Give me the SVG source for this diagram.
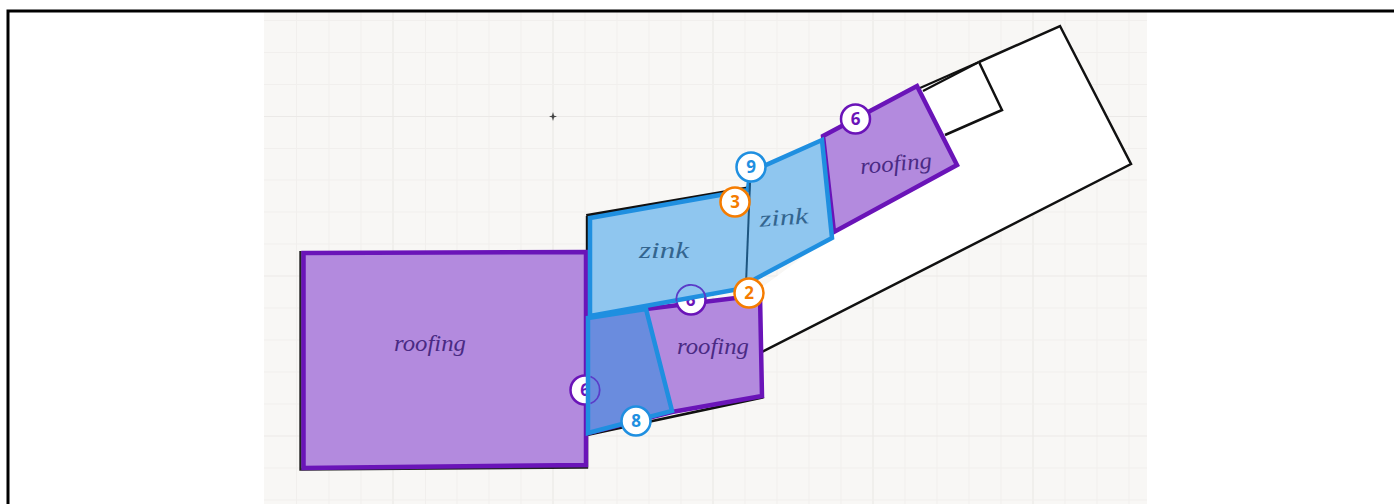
<svg xmlns="http://www.w3.org/2000/svg" width="1394" height="504" viewBox="0 0 1394 504">
<defs>
<style>
.hand{font-family:"Liberation Serif","DejaVu Serif",serif;font-style:italic;font-size:23px;text-anchor:middle}
.rt{fill:#4a2a84}
.zt{fill:#33658f}
.wall{fill:#fff;stroke:#111;stroke-width:2.5;stroke-linejoin:miter}
.roof{fill:#b38ade;stroke:#6a14b8;stroke-width:4.500;stroke-linejoin:miter}
.zink{fill:#8fc6ef;stroke:#1f8fe0;stroke-width:4.500;stroke-linejoin:miter}
.over{fill:#6a8cde;stroke:#1f8fe0;stroke-width:4.500;stroke-linejoin:miter}
.b{fill:#fff;stroke-width:2.500}
.bt{font-family:"Open Sans","Noto Sans",sans-serif;font-weight:700;font-size:17px;text-anchor:middle}
.minor{stroke:#f1efed;stroke-width:1}
.major{stroke:#ebe9e7;stroke-width:1.200}
</style>
</defs>
<rect width="1394" height="504" fill="#fff"/>
<g id="plan-background">
<rect x="264" y="12" width="883" height="492" fill="#f8f7f5"/>
<path class="minor" d="M296.500 12V504M329 12V504M361 12V504M425.500 12V504M457 12V504M489 12V504M521 12V504M585 12V504M617 12V504M649 12V504M681 12V504M745 12V504M777 12V504M809 12V504M841 12V504M905 12V504M937 12V504M969 12V504M1001 12V504M1065 12V504M1097 12V504M1129 12V504"/>
<path class="major" d="M393 12V504M553 12V504M713 12V504M873 12V504M1033 12V504"/>
<path class="minor" d="M264 20.500H1147M264 52.500H1147M264 84.500H1147M264 148.500H1147M264 180H1147M264 212H1147M264 244H1147M264 308H1147M264 340H1147M264 372H1147M264 404H1147M264 468H1147M264 500H1147"/>
<path class="major" d="M264 116.500H1147M264 276H1147M264 436H1147"/>
<path d="M553 112L554.300 116.500L553 121L551.700 116.500ZM549 116.500L553 115.200L557 116.500L553 117.800Z" fill="#444"/>
</g>
<g id="building-outline">
<path fill="#fff" d="M745 300L835 233L958 165L917 88L1060 26L1131 164L762 352Z"/>
<path fill="none" stroke="#111" stroke-width="2.500" d="M979 62L1060 26L1131 164L762 352"/>
<path fill="#111" d="M586 214L750 186V192L587 220Z"/>
<path fill="none" stroke="#111" stroke-width="2.400" d="M587 216V252"/>
<path fill="none" stroke="#111" stroke-width="2.800" d="M587 435L764 397"/>
<path fill="none" stroke="#222" stroke-width="2.400" d="M300.500 251V469.500L587 467.500V434"/>
</g>
<g id="connectors" fill="none" stroke="#111" stroke-width="2.200">
<path d="M920 88L979 62"/>
<path d="M923 91L979 62"/>
</g>
<g id="storage-room">
<path class="wall" d="M979 62L1002 110L945 135" fill="none"/>
</g>
<g id="roof-large">
<path class="roof" d="M303.500 253L586 252V465L303.500 468Z"/>
<text class="hand rt" x="430" y="351" textLength="72" lengthAdjust="spacingAndGlyphs">roofing</text>
</g>
<g id="roof-right">
<path class="roof" d="M823 136L917 86L957 165L834 232Z"/>
<text class="hand rt" x="896" y="171" textLength="72" lengthAdjust="spacingAndGlyphs" transform="rotate(-5 896 165)">roofing</text>
</g>
<g id="badge-6-right">
<circle class="b" cx="855.500" cy="119" r="14.500" stroke="#6a14b8"/>
<text class="bt" x="855.500" y="125" fill="#6a14b8">6</text>
</g>
<g id="roof-middle">
<path class="roof" d="M646 309L760 295L762 396L672 412L588 433V318Z"/>
<text class="hand rt" x="713" y="354" textLength="72" lengthAdjust="spacingAndGlyphs">roofing</text>
</g>
<g id="badge-6-middle">
<circle class="b" cx="691" cy="300" r="14.500" stroke="#6a14b8"/>
<text class="bt" x="690.500" y="306" fill="#6a14b8">6</text>
</g>
<g id="badge-6-left">
<circle class="b" cx="585" cy="390" r="14.500" stroke="#6a14b8"/>
<text class="bt" x="585" y="396" fill="#6a14b8">6</text>
</g>
<g id="zink-area">
<path class="zink" d="M590 218L748 190L750 172L822 140L832 238L755 279L745 288L590 316Z"/>
<path fill="none" stroke="#1d5580" stroke-width="2" d="M750 183L746 284"/>
<text class="hand zt" x="664" y="258" textLength="50" lengthAdjust="spacingAndGlyphs">zink</text>
<text class="hand zt" x="784" y="225" textLength="49" lengthAdjust="spacingAndGlyphs" transform="rotate(-4 784 220)">zink</text>
</g>
<g id="zink-over-roof">
<path class="over" d="M588 318L646 309L672 411L588 433Z"/>
</g>
<g id="badge-rings" fill="none" stroke="#5a3cc8" stroke-width="1.800">
<path d="M676.500 301.500A14.500 14.500 0 0 1 705.500 297.500"/>
<path d="M590.500 376.500A14.500 14.500 0 0 1 590.500 403.500"/>
</g>
<g id="badge-9">
<circle class="b" cx="751" cy="167" r="14.500" stroke="#1f8fe0"/>
<text class="bt" x="751" y="173" fill="#1f8fe0">9</text>
</g>
<g id="badge-3">
<circle class="b" cx="735" cy="202" r="14.500" stroke="#f57c00"/>
<text class="bt" x="735" y="208" fill="#f57c00">3</text>
</g>
<g id="badge-2">
<circle class="b" cx="749" cy="293" r="14.500" stroke="#f57c00"/>
<text class="bt" x="749" y="299" fill="#f57c00">2</text>
</g>
<g id="badge-8">
<circle class="b" cx="636" cy="421" r="14.500" stroke="#1f8fe0"/>
<text class="bt" x="636" y="427" fill="#1f8fe0">8</text>
</g>
<path id="frame" d="M8 504V11H1394" fill="none" stroke="#000" stroke-width="3"/>
</svg>
